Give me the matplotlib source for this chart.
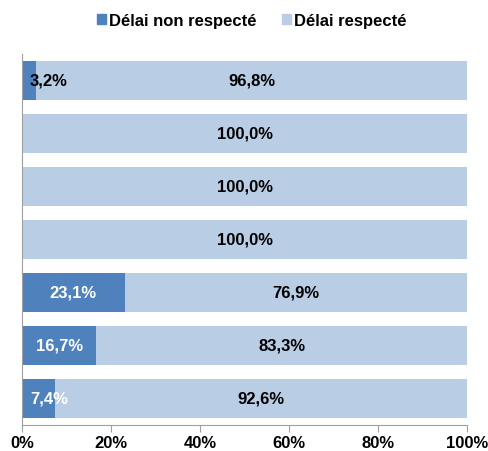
import numpy as np
import matplotlib.pyplot as plt
from matplotlib.patches import Patch

plt.rcParams['font.family'] = ['Liberation Sans', 'DejaVu Sans']

# rows from top to bottom
non_respecte = [3.2, 0.0, 0.0, 0.0, 23.1, 16.7, 7.4]
respecte = [96.8, 100.0, 100.0, 100.0, 76.9, 83.3, 92.6]
series_names = ['Délai non respecté', 'Délai respecté']
xticks = [0, 20, 40, 60, 80, 100]
xtick_labels = ['0%', '20%', '40%', '60%', '80%', '100%']

dark = '#4F81BD'
light = '#B9CDE5'

def fmt(v):
    return ('%.1f%%' % v).replace('.', ',')

fig = plt.figure(figsize=(4.89, 4.52), dpi=100)
ax = fig.add_axes([0.045, 0.0575, 0.91, 0.8215])

y = np.arange(len(respecte))
ax.barh(y, non_respecte, height=0.74, color=dark)
ax.barh(y, respecte, left=non_respecte, height=0.74, color=light)

for i in range(len(y)):
    a = non_respecte[i]
    b = respecte[i]
    if a > 0:
        col = 'black' if a < 5 else 'white'
        ax.text(max(a / 2, 6.0), y[i], fmt(a), ha='center', va='center',
                fontsize=12, fontweight='bold', color=col)
    ax.text(a + b / 2, y[i], fmt(b), ha='center', va='center',
            fontsize=12, fontweight='bold', color='black')

ax.set_ylim(len(y) - 0.5, -0.5)
ax.set_xlim(0, 100)
ax.set_yticks([])
ax.set_xticks(xticks)
ax.set_xticklabels(xtick_labels, fontsize=12, fontweight='bold')
ax.tick_params(axis='x', direction='out', length=5, color='#A0A0A0', pad=2)
for s in ['top', 'right']:
    ax.spines[s].set_visible(False)
for s in ['left', 'bottom']:
    ax.spines[s].set_color('#A0A0A0')

handles = [Patch(color=dark), Patch(color=light)]
leg = fig.legend(handles, series_names, loc='center', bbox_to_anchor=(0.515, 0.953),
                 ncol=2, frameon=False, handlelength=0.55, handleheight=0.55,
                 handletextpad=0.2, columnspacing=1.5,
                 prop={'size': 12, 'weight': 'bold'})

fig.savefig('out.png', dpi=100)
